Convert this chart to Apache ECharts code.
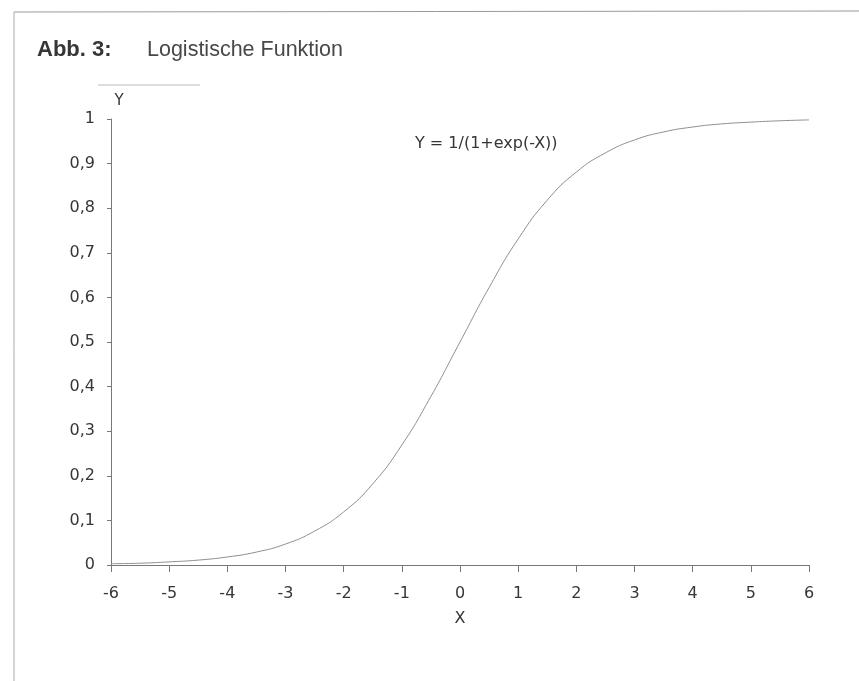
<!DOCTYPE html>
<html lang="de">
<head>
<meta charset="UTF-8">
<title>Logistische Funktion</title>
<script src="https://cdn.jsdelivr.net/npm/echarts@6/dist/echarts.min.js"></script>
<style>
  html, body { margin: 0; padding: 0; background: #fff; }
  #chart { width: 859px; height: 681px; }
</style>
</head>
<body>
<div id="chart"></div>
<script>
// values, every half unit of X
const xValues = [-6, -5.5, -5, -4.5, -4, -3.5, -3, -2.5, -2, -1.5, -1, -0.5, 0,
                 0.5, 1, 1.5, 2, 2.5, 3, 3.5, 4, 4.5, 5, 5.5, 6];
const yValues = [0.003, 0.004, 0.007, 0.011, 0.018, 0.029, 0.047, 0.076, 0.119, 0.182, 0.269, 0.378, 0.5,
                 0.622, 0.731, 0.818, 0.881, 0.924, 0.953, 0.971, 0.982, 0.989, 0.993, 0.996, 0.998];
const xTicks = [-6, -5, -4, -3, -2, -1, 0, 1, 2, 3, 4, 5, 6];
const yTicks = [0, 0.1, 0.2, 0.3, 0.4, 0.5, 0.6, 0.7, 0.8, 0.9, 1];

const textColor = '#363636';
const titleFont = 'Liberation Sans, Arial, sans-serif';
const labelFont = 'DejaVu Sans, sans-serif';

const chart = echarts.init(document.getElementById('chart'));

chart.setOption({
    animation: false,
    backgroundColor: '#fff',
    title: [
        {
            text: 'Abb. 3:',
            left: 37, top: 39, padding: 0,
            textStyle: { fontFamily: titleFont, fontSize: 22, fontWeight: 'bold', color: textColor }
        },
        {
            text: 'Logistische Funktion',
            left: 147, top: 39, padding: 0,
            textStyle: { fontFamily: titleFont, fontSize: 21.5, fontWeight: 'normal', color: '#484848' }
        },
        {
            text: 'Y = 1/(1+exp(-X))',
            left: 415, top: 136, padding: 0,
            textStyle: { fontFamily: labelFont, fontSize: 16, fontWeight: 'normal', color: textColor }
        }
    ],
    // scanned page frame
    graphic: [
        { type: 'line', shape: { x1: 14, y1: 12, x2: 859, y2: 11 }, style: { stroke: '#999', lineWidth: 1 } },
        { type: 'line', shape: { x1: 14, y1: 12, x2: 14, y2: 681 }, style: { stroke: '#aaa', lineWidth: 1 } },
        { type: 'line', shape: { x1: 98, y1: 85, x2: 200, y2: 85 }, style: { stroke: '#bbb', lineWidth: 1 } }
    ],
    grid: { left: 111, right: 50, top: 119, bottom: 116 },
    xAxis: {
        type: 'value',
        min: -6, max: 6, interval: 1,
        name: 'X',
        nameLocation: 'middle',
        nameGap: 46,
        nameTextStyle: { fontFamily: labelFont, fontSize: 16, color: textColor },
        axisLine: { onZero: false, lineStyle: { color: '#777', width: 1 } },
        axisTick: { length: 7, lineStyle: { color: '#777' } },
        axisLabel: {
            margin: 21, fontFamily: labelFont, fontSize: 16, color: textColor,
            customValues: xTicks
        },
        splitLine: { show: false }
    },
    yAxis: {
        type: 'value',
        min: 0, max: 1, interval: 0.1,
        name: 'Y',
        nameLocation: 'end',
        nameGap: 10,
        nameTextStyle: { fontFamily: labelFont, fontSize: 15, color: textColor, padding: [0, 0, 0, 16] },
        axisLine: { show: true, onZero: false, lineStyle: { color: '#777', width: 1 } },
        axisTick: { show: true, length: 4, lineStyle: { color: '#777' } },
        axisLabel: {
            margin: 16, fontFamily: labelFont, fontSize: 16, color: textColor,
            formatter: v => {
                const t = yTicks.find(k => Math.abs(k - v) < 1e-6);
                return t === undefined ? '' : String(+t.toFixed(1)).replace('.', ',');
            }
        },
        splitLine: { show: false }
    },
    series: [{
        type: 'line',
        data: xValues.map((x, i) => [x, yValues[i]]),
        smooth: true,
        showSymbol: false,
        lineStyle: { color: '#8f8f8f', width: 1 }
    }]
});
</script>
</body>
</html>
